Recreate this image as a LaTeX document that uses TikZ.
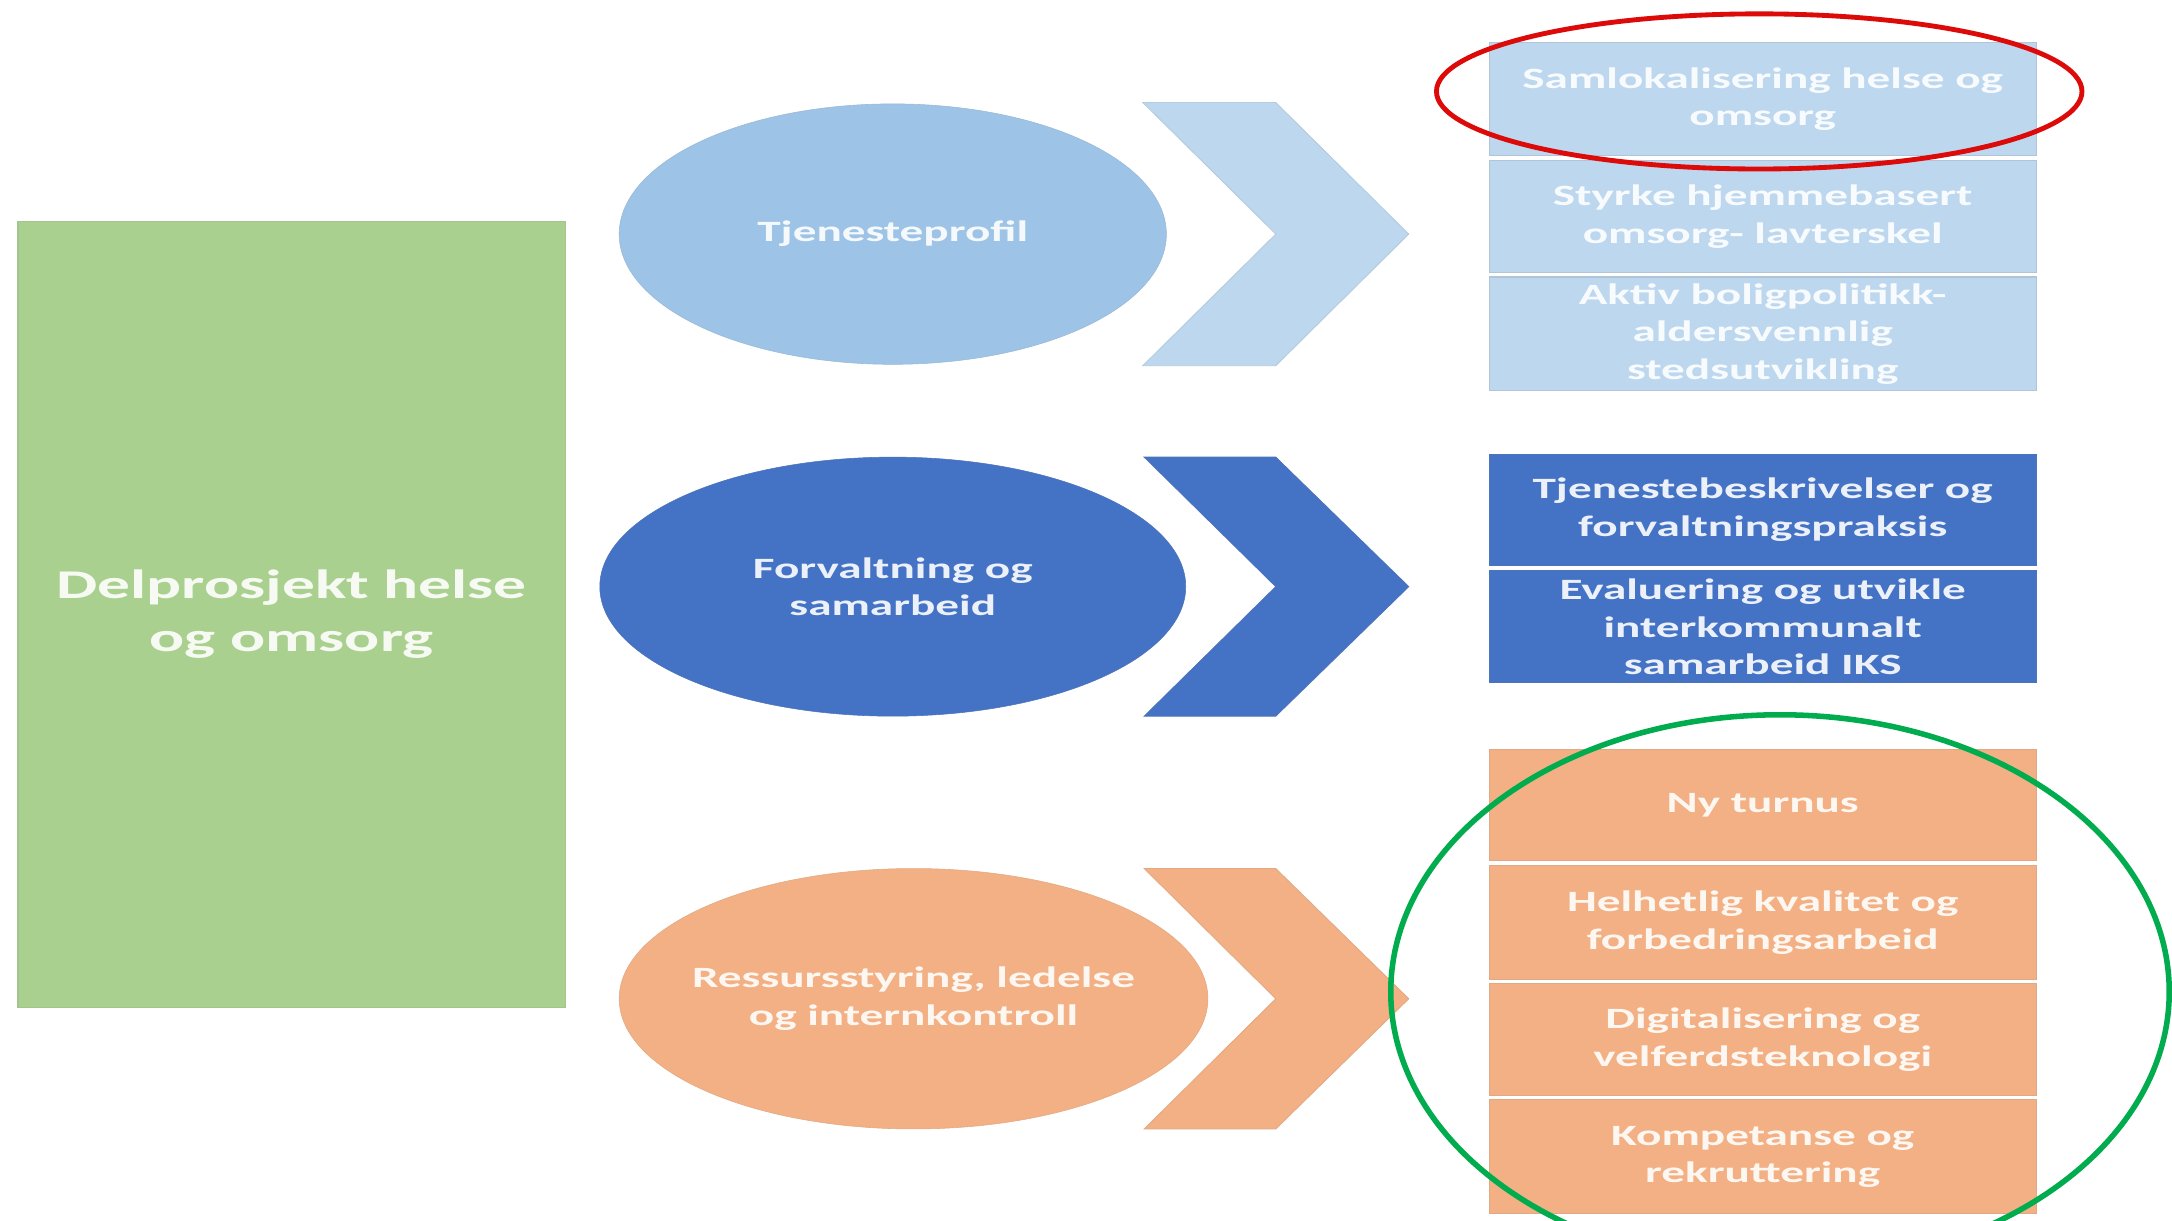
\documentclass[tikz,border=0pt]{standalone}
\usepackage{fontspec}
\usetikzlibrary{shapes.geometric}
\newfontfamily\lblfont{Carlito}[FakeStretch=1.6]
\definecolor{cgreen}{HTML}{A9D08E}
\definecolor{cell}{HTML}{9DC3E6}
\definecolor{clight}{HTML}{BDD7EE}
\definecolor{cdark}{HTML}{4472C4}
\definecolor{corange}{HTML}{F2B084}
\definecolor{cred}{HTML}{DD0A0A}
\definecolor{cgreenline}{HTML}{00AC4E}
\tikzset{
  lbl/.style={font=\lblfont\bfseries\fontsize{21.3}{27}\selectfont, text=white, text opacity=0.9, align=center},
  oval/.style={ellipse, inner sep=0pt},
  cell/.style={rectangle, inner sep=0pt, minimum width=395pt, minimum height=81pt, lbl, line width=0.8pt},
  chev/.style={line width=0.6pt},
}
\begin{document}
\begin{tikzpicture}[x=1pt,y=-1pt]
\useasboundingbox (0,0) rectangle (1568,881);
\clip (0,0) rectangle (1568,881);
\fill[white] (0,0) rectangle (1568,881);

% left green block
\node[rectangle, fill=cgreen, draw=cgreen!85!gray, line width=0.8pt, minimum width=395pt, minimum height=567pt, inner sep=0pt,
  font=\lblfont\bfseries\fontsize{29.5}{38}\selectfont, text=white, text opacity=0.9, align=center]
  (main) at (210.5,443.5) {Delprosjekt helse\\og omsorg};

% ellipses
\node[oval, fill=cell, draw=cell!85!gray, minimum width=395pt, minimum height=188pt] (e1) at (644.5,169) {};
\node[lbl] (t1) at (e1.center) {Tjenesteprofil};
\node[oval, fill=cdark, draw=cdark!85!gray, minimum width=423pt, minimum height=187pt] (e2) at (644.5,423.5) {};
\node[lbl] (t2) at (e2.center) {Forvaltning og\\samarbeid};
\node[oval, fill=corange, draw=corange!85!gray, minimum width=425pt, minimum height=188pt] (e3) at (659.5,721) {};
\node[lbl] (t3) at (e3.center) {Ressursstyring, ledelse\\og internkontroll};

% chevrons
\fill[clight, draw=clight!85!gray, chev] (825,74) -- (921,74) -- (1017,169) -- (921,264) -- (825,264) -- (921,169) -- cycle;
\fill[cdark, draw=cdark!85!gray, chev] (826,330) -- (921,330) -- (1017,423.5) -- (921,517) -- (826,517) -- (921,423.5) -- cycle;
\fill[corange, draw=corange!85!gray, chev] (826,627) -- (921,627) -- (1017,721) -- (921,815) -- (826,815) -- (921,721) -- cycle;

% right column boxes
\node[cell, fill=clight, draw=clight!80!gray] (b1) at (1272.5,71.5) {Samlokalisering helse og\\omsorg};
\node[cell, fill=clight, draw=clight!80!gray] (b2) at (1272.5,156.5) {Styrke hjemmebasert\\omsorg- lavterskel};
\node[cell, fill=clight, draw=clight!80!gray, minimum height=82pt] (b3) at (1272.5,241) {Aktiv boligpolitikk-\\aldersvennlig\\stedsutvikling};

\node[cell, fill=cdark, draw=cdark!85!gray, minimum height=80pt] (d1) at (1272.5,368) {Tjenestebeskrivelser og\\forvaltningspraksis};
\node[cell, fill=cdark, draw=cdark!85!gray] (d2) at (1272.5,452.5) {Evaluering og utvikle\\interkommunalt\\samarbeid IKS};

\node[cell, fill=corange, draw=corange!85!gray, minimum height=80pt] (o1) at (1272.5,581) {Ny turnus};
\node[cell, fill=corange, draw=corange!85!gray, minimum height=82pt] (o2) at (1272.5,666) {Helhetlig kvalitet og\\forbedringsarbeid};
\node[cell, fill=corange, draw=corange!85!gray] (o3) at (1272.5,750.5) {Digitalisering og\\velferdsteknologi};
\node[cell, fill=corange, draw=corange!85!gray, minimum height=82pt] (o4) at (1272.5,835) {Kompetanse og\\rekruttering};

% highlight rings
\draw[cred, line width=3.5pt] (1270,66) ellipse (233 and 56);
\draw[cgreenline, line width=4pt] (1285,716) ellipse (281 and 200);
\end{tikzpicture}
\end{document}
